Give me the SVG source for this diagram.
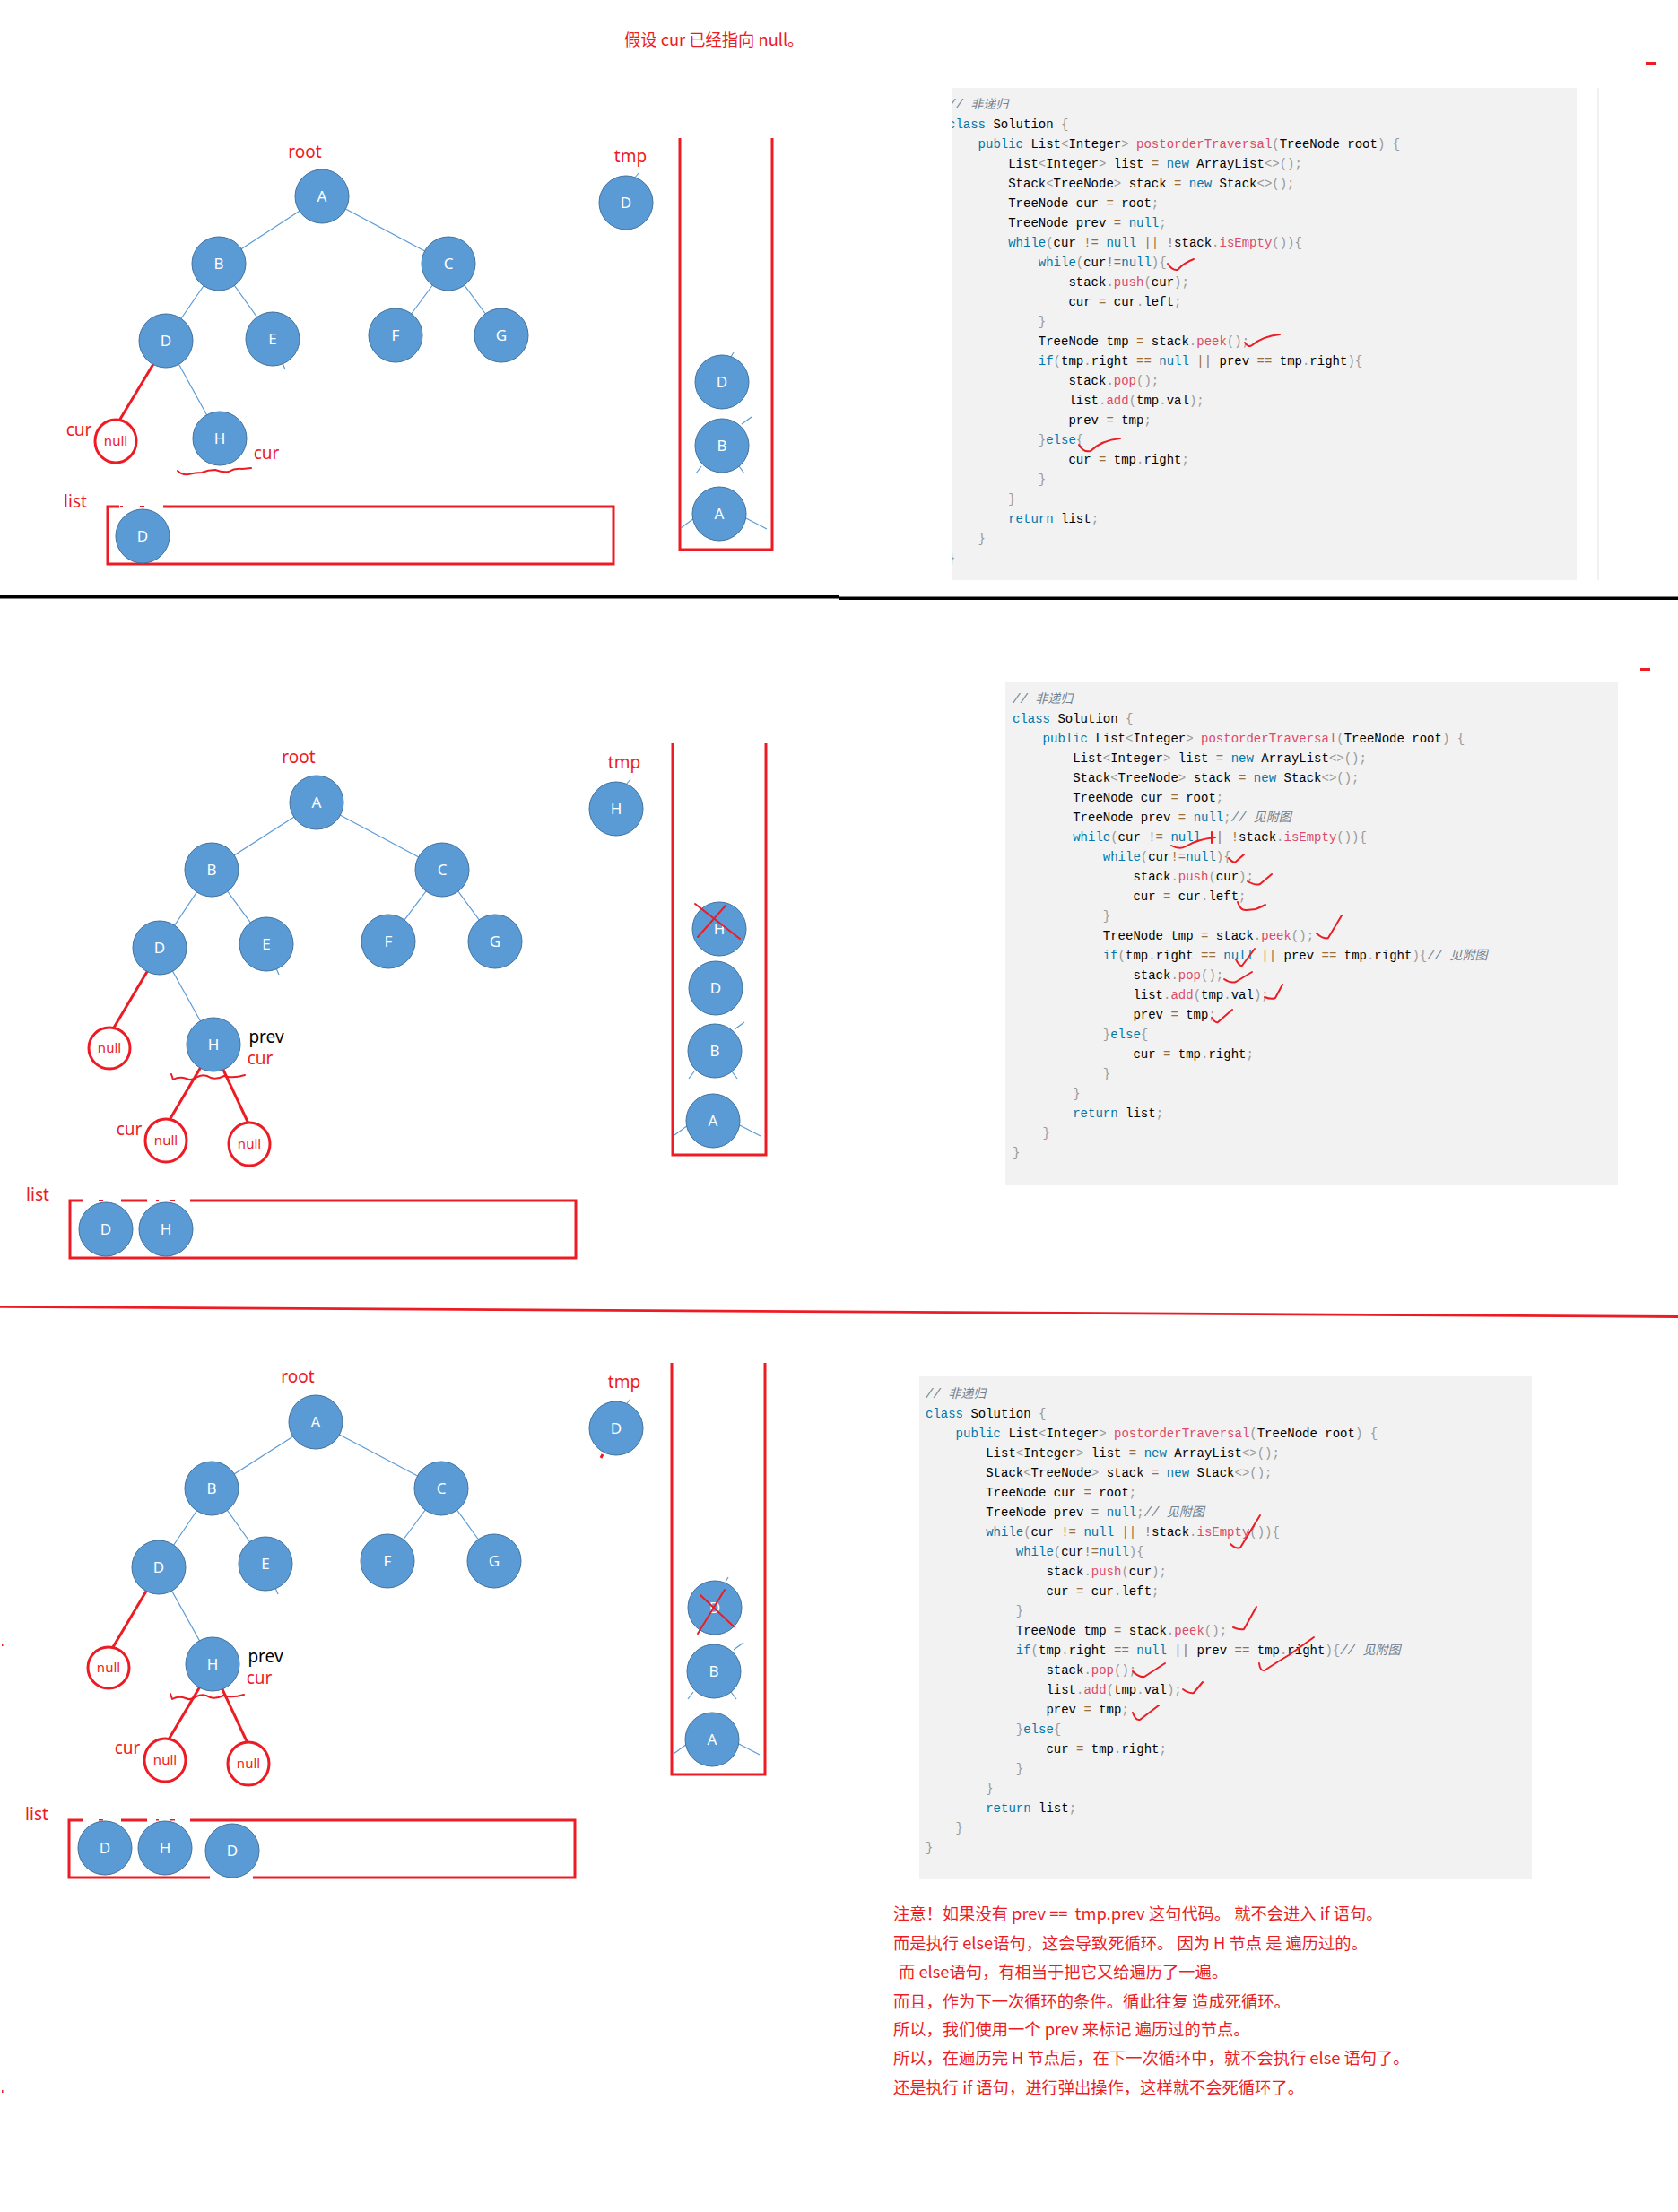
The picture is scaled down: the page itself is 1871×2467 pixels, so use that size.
<svg xmlns="http://www.w3.org/2000/svg" width="1871" height="2467" viewBox="0 0 1871 2467">
<defs>
<style>
.node circle{fill:#5b9bd5;stroke:#41719c;stroke-width:1}
.node text{fill:#fff;font-family:"Noto Sans","DejaVu Sans",sans-serif;font-size:17px;text-anchor:middle}
.edge{stroke:#5b9bd5;stroke-width:1.2;fill:none}
.red{stroke:#ed1c24;stroke-width:3;fill:none}
.redthin{stroke:#ed1c24;stroke-width:2;fill:none;stroke-linecap:round;stroke-linejoin:round}
.nullc ellipse{fill:#fff;stroke:#ed1c24;stroke-width:3}
.nullc text{fill:#ed1c24;font-family:"Noto Sans","DejaVu Sans",sans-serif;font-size:15px;text-anchor:middle}
.lbl{fill:#ed1c24;font-family:"Noto Sans","DejaVu Sans",sans-serif;font-size:19px;text-anchor:middle}
.lblb{fill:#000;font-family:"Noto Sans","DejaVu Sans",sans-serif;font-size:19px;text-anchor:middle}
.note{fill:#ed1c24;font-family:"Noto Sans CJK SC","Noto Sans",sans-serif;font-size:18.3px;white-space:pre}
.code{font-family:"Liberation Mono","DejaVu Sans Mono","Noto Sans CJK SC",monospace;font-size:14px;fill:#000}
.k{fill:#0077aa}
.f{fill:#dd4a68}
.p{fill:#999999}
.o{fill:#9a6e3a}
.c{fill:#708090;font-style:italic}
.bg{fill:#f2f2f2}
</style>
<clipPath id="clip1"><rect x="1062" y="98" width="696" height="549"/></clipPath>
</defs>
<rect x="0" y="0" width="1871" height="2467" fill="#fff"/>

<!-- separators and marks -->
<rect x="0" y="664" width="935" height="3.5" fill="#000"/>
<rect x="935" y="665.5" width="936" height="3.5" fill="#000"/>
<line x1="0" y1="1457.3" x2="1871" y2="1468.5" stroke="#ed1c24" stroke-width="2.8"/>
<rect x="1835" y="69" width="11" height="3" fill="#ed1c24"/>
<rect x="1829" y="745" width="11" height="3" fill="#ed1c24"/>
<rect x="2" y="1833" width="1.5" height="3" fill="#ed1c24"/>
<rect x="2" y="2331" width="1.5" height="3" fill="#ed1c24"/>

<text class="note" x="696" y="51" font-size="18.5">假设 cur 已经指向 null。</text>

<!-- ============ SECTION 1 ============ -->
<g id="s1-connectors">
<line class="edge" x1="359" y1="219" x2="244" y2="294"/>
<line class="edge" x1="359" y1="219" x2="500" y2="294"/>
<line class="edge" x1="244" y1="294" x2="185" y2="380"/>
<line class="edge" x1="244" y1="294" x2="304" y2="378"/>
<line class="edge" x1="500" y1="294" x2="441" y2="374"/>
<line class="edge" x1="500" y1="294" x2="559" y2="374"/>
<line class="edge" x1="185" y1="380" x2="245" y2="489"/>
<line class="red" x1="171" y1="406" x2="133" y2="469"/>
<line class="edge" x1="315" y1="405" x2="318" y2="412"/>
</g>
<text class="lbl" x="340" y="176" font-size="20">root</text>
<g id="s1-A" class="node"><circle cx="359" cy="219" r="30"/><text x="359" y="225">A</text></g>
<g id="s1-B" class="node"><circle cx="244" cy="294" r="30"/><text x="244" y="300">B</text></g>
<g id="s1-C" class="node"><circle cx="500" cy="294" r="30"/><text x="500" y="300">C</text></g>
<g id="s1-D" class="node"><circle cx="185" cy="380" r="30"/><text x="185" y="386">D</text></g>
<g id="s1-E" class="node"><circle cx="304" cy="378" r="30"/><text x="304" y="384">E</text></g>
<g id="s1-F" class="node"><circle cx="441" cy="374" r="30"/><text x="441" y="380">F</text></g>
<g id="s1-G" class="node"><circle cx="559" cy="374" r="30"/><text x="559" y="380">G</text></g>
<g id="s1-H" class="node"><circle cx="245" cy="489" r="30"/><text x="245" y="495">H</text></g>
<g id="s1-null" class="nullc"><ellipse cx="129" cy="492" rx="23" ry="24"/><text x="129" y="497">null</text></g>
<text class="lbl" x="88" y="486" font-size="18">cur</text>
<text class="lbl" x="297" y="512" font-size="18">cur</text>
<path class="redthin" d="M198,525 Q203,530 210,529 Q218,527 225,527 Q232,524 240,524 Q248,527 255,526 Q262,522 270,523 L280,522"/>

<text class="lbl" x="703" y="181">tmp</text>
<g id="s1-tmpD" class="node"><circle cx="698" cy="226" r="30"/><text x="698" y="232">D</text></g>
<line class="edge" x1="708" y1="198" x2="712" y2="193"/>

<g id="s1-stack">
<path class="red" d="M758,154 V613 H861 V154"/>
</g>
<line class="edge" x1="827" y1="473" x2="838" y2="465"/>
<line class="edge" x1="782" y1="520" x2="776" y2="528"/>
<line class="edge" x1="824" y1="520" x2="830" y2="528"/>
<line class="edge" x1="774" y1="578" x2="759" y2="589"/>
<line class="edge" x1="830" y1="577" x2="855" y2="590"/>
<line class="edge" x1="815" y1="398" x2="818" y2="393"/>
<g id="s1-stD" class="node"><circle cx="805" cy="426" r="30"/><text x="805" y="432">D</text></g>
<g id="s1-stB" class="node"><circle cx="805" cy="497" r="30"/><text x="805" y="503">B</text></g>
<g id="s1-stA" class="node"><circle cx="802" cy="573" r="30"/><text x="802" y="579">A</text></g>

<text class="lbl" x="84" y="566" font-size="18">list</text>
<g id="s1-list">
<rect class="red" x="120" y="565" width="564" height="64" stroke-width="3.5"/>
<rect x="133" y="562" width="49" height="6" fill="#fff"/>
<rect x="134" y="564" width="3" height="1.5" fill="#ed1c24"/>
<rect x="156" y="564" width="5" height="1.5" fill="#ed1c24"/>
</g>
<g id="s1-listD" class="node"><circle cx="159" cy="598" r="30"/><text x="159" y="604">D</text></g>

<!-- code block 1 -->
<rect class="bg" x="1062" y="98" width="696" height="549"/>
<line x1="1782" y1="98" x2="1782" y2="647" stroke="#e3e3e3" stroke-width="1"/>
<g id="code1" class="code" clip-path="url(#clip1)">
<text x="1057" y="121"><tspan class="c">// 非递归</tspan></text>
<text x="1057" y="143"><tspan class="k">class</tspan> Solution <tspan class="p">{</tspan></text>
<text x="1090.6" y="165"><tspan class="k">public</tspan> List<tspan class="p">&lt;</tspan>Integer<tspan class="p">&gt;</tspan> <tspan class="f">postorderTraversal</tspan><tspan class="p">(</tspan>TreeNode root<tspan class="p">)</tspan> <tspan class="p">{</tspan></text>
<text x="1124.2" y="187">List<tspan class="p">&lt;</tspan>Integer<tspan class="p">&gt;</tspan> list <tspan class="o">=</tspan> <tspan class="k">new</tspan> ArrayList<tspan class="p">&lt;&gt;();</tspan></text>
<text x="1124.2" y="209">Stack<tspan class="p">&lt;</tspan>TreeNode<tspan class="p">&gt;</tspan> stack <tspan class="o">=</tspan> <tspan class="k">new</tspan> Stack<tspan class="p">&lt;&gt;();</tspan></text>
<text x="1124.2" y="231">TreeNode cur <tspan class="o">=</tspan> root<tspan class="p">;</tspan></text>
<text x="1124.2" y="253">TreeNode prev <tspan class="o">=</tspan> <tspan class="k">null</tspan><tspan class="p">;</tspan></text>
<text x="1124.2" y="275"><tspan class="k">while</tspan><tspan class="p">(</tspan>cur <tspan class="o">!=</tspan> <tspan class="k">null</tspan> <tspan class="o">||</tspan> <tspan class="o">!</tspan>stack<tspan class="p">.</tspan><tspan class="f">isEmpty</tspan><tspan class="p">()){</tspan></text>
<text x="1157.8" y="297"><tspan class="k">while</tspan><tspan class="p">(</tspan>cur<tspan class="o">!=</tspan><tspan class="k">null</tspan><tspan class="p">){</tspan></text>
<text x="1191.4" y="319">stack<tspan class="p">.</tspan><tspan class="f">push</tspan><tspan class="p">(</tspan>cur<tspan class="p">);</tspan></text>
<text x="1191.4" y="341">cur <tspan class="o">=</tspan> cur<tspan class="p">.</tspan>left<tspan class="p">;</tspan></text>
<text x="1157.8" y="363"><tspan class="p">}</tspan></text>
<text x="1157.8" y="385">TreeNode tmp <tspan class="o">=</tspan> stack<tspan class="p">.</tspan><tspan class="f">peek</tspan><tspan class="p">();</tspan></text>
<text x="1157.8" y="407"><tspan class="k">if</tspan><tspan class="p">(</tspan>tmp<tspan class="p">.</tspan>right <tspan class="o">==</tspan> <tspan class="k">null</tspan> <tspan class="o">||</tspan> prev <tspan class="o">==</tspan> tmp<tspan class="p">.</tspan>right<tspan class="p">){</tspan></text>
<text x="1191.4" y="429">stack<tspan class="p">.</tspan><tspan class="f">pop</tspan><tspan class="p">();</tspan></text>
<text x="1191.4" y="451">list<tspan class="p">.</tspan><tspan class="f">add</tspan><tspan class="p">(</tspan>tmp<tspan class="p">.</tspan>val<tspan class="p">);</tspan></text>
<text x="1191.4" y="473">prev <tspan class="o">=</tspan> tmp<tspan class="p">;</tspan></text>
<text x="1157.8" y="495"><tspan class="p">}</tspan><tspan class="k">else</tspan><tspan class="p">{</tspan></text>
<text x="1191.4" y="517">cur <tspan class="o">=</tspan> tmp<tspan class="p">.</tspan>right<tspan class="p">;</tspan></text>
<text x="1157.8" y="539"><tspan class="p">}</tspan></text>
<text x="1124.2" y="561"><tspan class="p">}</tspan></text>
<text x="1124.2" y="583"><tspan class="k">return</tspan> list<tspan class="p">;</tspan></text>
<text x="1090.6" y="605"><tspan class="p">}</tspan></text>
<text x="1057" y="627"><tspan class="p">}</tspan></text>
</g>
<g id="checks1">
<path class="redthin" d="M1302,294 Q1307,302 1313,301 Q1320,293 1331,289"/>
<path class="redthin" d="M1388,382 Q1392,388 1396,385 Q1408,375 1427,373"/>
<path class="redthin" d="M1203,496 Q1208,505 1216,503 Q1228,491 1249,489"/>
</g>

<!-- ============ SECTION 2 ============ -->
<g id="s2-connectors">
<line class="edge" x1="353" y1="895" x2="236" y2="970"/>
<line class="edge" x1="353" y1="895" x2="493" y2="970"/>
<line class="edge" x1="236" y1="970" x2="178" y2="1057"/>
<line class="edge" x1="236" y1="970" x2="297" y2="1053"/>
<line class="edge" x1="493" y1="970" x2="433" y2="1050"/>
<line class="edge" x1="493" y1="970" x2="552" y2="1050"/>
<line class="edge" x1="178" y1="1057" x2="238" y2="1165"/>
<line class="red" x1="165" y1="1082" x2="127" y2="1146"/>
<line class="red" x1="224" y1="1190" x2="189" y2="1249"/>
<line class="red" x1="248" y1="1191" x2="277" y2="1253"/>
<line class="edge" x1="308" y1="1080" x2="311" y2="1087"/>
</g>
<text class="lbl" x="333" y="851" font-size="20">root</text>
<g id="s2-A" class="node"><circle cx="353" cy="895" r="30"/><text x="353" y="901">A</text></g>
<g id="s2-B" class="node"><circle cx="236" cy="970" r="30"/><text x="236" y="976">B</text></g>
<g id="s2-C" class="node"><circle cx="493" cy="970" r="30"/><text x="493" y="976">C</text></g>
<g id="s2-D" class="node"><circle cx="178" cy="1057" r="30"/><text x="178" y="1063">D</text></g>
<g id="s2-E" class="node"><circle cx="297" cy="1053" r="30"/><text x="297" y="1059">E</text></g>
<g id="s2-F" class="node"><circle cx="433" cy="1050" r="30"/><text x="433" y="1056">F</text></g>
<g id="s2-G" class="node"><circle cx="552" cy="1050" r="30"/><text x="552" y="1056">G</text></g>
<g id="s2-H" class="node"><circle cx="238" cy="1165" r="30"/><text x="238" y="1171">H</text></g>
<g id="s2-nullL" class="nullc"><ellipse cx="122" cy="1169" rx="23" ry="23"/><text x="122" y="1174">null</text></g>
<g id="s2-nullBL" class="nullc"><ellipse cx="185" cy="1272" rx="23" ry="24"/><text x="185" y="1277">null</text></g>
<g id="s2-nullBR" class="nullc"><ellipse cx="278" cy="1276" rx="23" ry="24"/><text x="278" y="1281">null</text></g>
<text class="lblb" x="297" y="1163" font-size="18">prev</text>
<text class="lbl" x="290" y="1187" font-size="18">cur</text>
<text class="lbl" x="144" y="1266" font-size="18">cur</text>
<path class="redthin" d="M191,1198 L193,1204 Q200,1200 208,1203 Q214,1206 220,1201 Q228,1197 235,1202 Q242,1204 250,1200 Q260,1203 273,1199"/>

<text class="lbl" x="696" y="857">tmp</text>
<g id="s2-tmpH" class="node"><circle cx="687" cy="902" r="30"/><text x="687" y="908">H</text></g>
<line class="edge" x1="699" y1="874" x2="703" y2="869"/>

<g id="s2-stack">
<path class="red" d="M750,829 V1288 H854 V829"/>
</g>
<line class="edge" x1="819" y1="1148" x2="830" y2="1140"/>
<line class="edge" x1="774" y1="1195" x2="768" y2="1203"/>
<line class="edge" x1="816" y1="1195" x2="822" y2="1203"/>
<line class="edge" x1="767" y1="1255" x2="752" y2="1266"/>
<line class="edge" x1="823" y1="1254" x2="848" y2="1267"/>
<g id="s2-stH" class="node"><circle cx="802" cy="1036" r="30"/><text x="802" y="1042">H</text></g>
<g id="s2-stD" class="node"><circle cx="798" cy="1102" r="30"/><text x="798" y="1108">D</text></g>
<g id="s2-stB" class="node"><circle cx="797" cy="1172" r="30"/><text x="797" y="1178">B</text></g>
<g id="s2-stA" class="node"><circle cx="795" cy="1250" r="30"/><text x="795" y="1256">A</text></g>
<path class="redthin" d="M775,1008 L825,1047 M809,1010 L778,1045"/>

<text class="lbl" x="42" y="1339" font-size="18">list</text>
<g id="s2-list">
<rect class="red" x="78" y="1339" width="564" height="64" stroke-width="3.5"/>
<rect x="92" y="1336" width="43" height="6" fill="#fff"/>
<rect x="164" y="1336" width="48" height="6" fill="#fff"/>
<rect x="110" y="1338" width="5" height="1.5" fill="#ed1c24"/>
<rect x="174" y="1338" width="3" height="1.5" fill="#ed1c24"/>
<rect x="190" y="1338" width="5" height="1.5" fill="#ed1c24"/>
</g>
<g id="s2-listD" class="node"><circle cx="118" cy="1371" r="30"/><text x="118" y="1377">D</text></g>
<g id="s2-listH" class="node"><circle cx="185" cy="1371" r="30"/><text x="185" y="1377">H</text></g>

<!-- code block 2 -->
<rect class="bg" x="1121" y="761" width="683" height="561"/>
<g id="code2" class="code">
<text x="1129" y="784"><tspan class="c">// 非递归</tspan></text>
<text x="1129" y="806"><tspan class="k">class</tspan> Solution <tspan class="p">{</tspan></text>
<text x="1162.6" y="828"><tspan class="k">public</tspan> List<tspan class="p">&lt;</tspan>Integer<tspan class="p">&gt;</tspan> <tspan class="f">postorderTraversal</tspan><tspan class="p">(</tspan>TreeNode root<tspan class="p">)</tspan> <tspan class="p">{</tspan></text>
<text x="1196.2" y="850">List<tspan class="p">&lt;</tspan>Integer<tspan class="p">&gt;</tspan> list <tspan class="o">=</tspan> <tspan class="k">new</tspan> ArrayList<tspan class="p">&lt;&gt;();</tspan></text>
<text x="1196.2" y="872">Stack<tspan class="p">&lt;</tspan>TreeNode<tspan class="p">&gt;</tspan> stack <tspan class="o">=</tspan> <tspan class="k">new</tspan> Stack<tspan class="p">&lt;&gt;();</tspan></text>
<text x="1196.2" y="894">TreeNode cur <tspan class="o">=</tspan> root<tspan class="p">;</tspan></text>
<text x="1196.2" y="916">TreeNode prev <tspan class="o">=</tspan> <tspan class="k">null</tspan><tspan class="p">;</tspan><tspan class="c">// 见附图</tspan></text>
<text x="1196.2" y="938"><tspan class="k">while</tspan><tspan class="p">(</tspan>cur <tspan class="o">!=</tspan> <tspan class="k">null</tspan> <tspan class="o">||</tspan> <tspan class="o">!</tspan>stack<tspan class="p">.</tspan><tspan class="f">isEmpty</tspan><tspan class="p">()){</tspan></text>
<text x="1229.8" y="960"><tspan class="k">while</tspan><tspan class="p">(</tspan>cur<tspan class="o">!=</tspan><tspan class="k">null</tspan><tspan class="p">){</tspan></text>
<text x="1263.4" y="982">stack<tspan class="p">.</tspan><tspan class="f">push</tspan><tspan class="p">(</tspan>cur<tspan class="p">);</tspan></text>
<text x="1263.4" y="1004">cur <tspan class="o">=</tspan> cur<tspan class="p">.</tspan>left<tspan class="p">;</tspan></text>
<text x="1229.8" y="1026"><tspan class="p">}</tspan></text>
<text x="1229.8" y="1048">TreeNode tmp <tspan class="o">=</tspan> stack<tspan class="p">.</tspan><tspan class="f">peek</tspan><tspan class="p">();</tspan></text>
<text x="1229.8" y="1070"><tspan class="k">if</tspan><tspan class="p">(</tspan>tmp<tspan class="p">.</tspan>right <tspan class="o">==</tspan> <tspan class="k">null</tspan> <tspan class="o">||</tspan> prev <tspan class="o">==</tspan> tmp<tspan class="p">.</tspan>right<tspan class="p">){</tspan><tspan class="c">// 见附图</tspan></text>
<text x="1263.4" y="1092">stack<tspan class="p">.</tspan><tspan class="f">pop</tspan><tspan class="p">();</tspan></text>
<text x="1263.4" y="1114">list<tspan class="p">.</tspan><tspan class="f">add</tspan><tspan class="p">(</tspan>tmp<tspan class="p">.</tspan>val<tspan class="p">);</tspan></text>
<text x="1263.4" y="1136">prev <tspan class="o">=</tspan> tmp<tspan class="p">;</tspan></text>
<text x="1229.8" y="1158"><tspan class="p">}</tspan><tspan class="k">else</tspan><tspan class="p">{</tspan></text>
<text x="1263.4" y="1180">cur <tspan class="o">=</tspan> tmp<tspan class="p">.</tspan>right<tspan class="p">;</tspan></text>
<text x="1229.8" y="1202"><tspan class="p">}</tspan></text>
<text x="1196.2" y="1224"><tspan class="p">}</tspan></text>
<text x="1196.2" y="1246"><tspan class="k">return</tspan> list<tspan class="p">;</tspan></text>
<text x="1162.6" y="1268"><tspan class="p">}</tspan></text>
<text x="1129" y="1290"><tspan class="p">}</tspan></text>
</g>
<g id="checks2">
<path class="redthin" d="M1306,943 Q1315,948 1322,944 Q1335,936 1355,934 M1351,928 L1351,940"/>
<path class="redthin" d="M1370,957 Q1375,963 1378,961 L1387,953"/>
<path class="redthin" d="M1391,983 Q1400,988 1405,986 L1418,975"/>
<path class="redthin" d="M1380,1006 Q1383,1016 1390,1015 L1400,1014 Q1405,1012 1411,1009"/>
<path class="redthin" d="M1468,1041 Q1476,1048 1481,1046 L1496,1021"/>
<path class="redthin" d="M1378,1070 Q1382,1078 1385,1077 L1399,1058"/>
<path class="redthin" d="M1365,1092 Q1372,1097 1378,1095 L1396,1084"/>
<path class="redthin" d="M1410,1112 Q1418,1115 1422,1113 L1430,1098"/>
<path class="redthin" d="M1351,1135 Q1355,1141 1358,1140 L1374,1126"/>
</g>

<!-- ============ SECTION 3 ============ -->
<g id="s3-connectors">
<line class="edge" x1="352" y1="1586" x2="236" y2="1660"/>
<line class="edge" x1="352" y1="1586" x2="492" y2="1660"/>
<line class="edge" x1="236" y1="1660" x2="177" y2="1748"/>
<line class="edge" x1="236" y1="1660" x2="296" y2="1744"/>
<line class="edge" x1="492" y1="1660" x2="432" y2="1741"/>
<line class="edge" x1="492" y1="1660" x2="551" y2="1741"/>
<line class="edge" x1="177" y1="1748" x2="237" y2="1856"/>
<line class="red" x1="164" y1="1773" x2="126" y2="1837"/>
<line class="red" x1="223" y1="1881" x2="188" y2="1940"/>
<line class="red" x1="247" y1="1882" x2="276" y2="1944"/>
<line class="edge" x1="307" y1="1771" x2="310" y2="1778"/>
</g>
<text class="lbl" x="332" y="1542" font-size="20">root</text>
<g id="s3-A" class="node"><circle cx="352" cy="1586" r="30"/><text x="352" y="1592">A</text></g>
<g id="s3-B" class="node"><circle cx="236" cy="1660" r="30"/><text x="236" y="1666">B</text></g>
<g id="s3-C" class="node"><circle cx="492" cy="1660" r="30"/><text x="492" y="1666">C</text></g>
<g id="s3-D" class="node"><circle cx="177" cy="1748" r="30"/><text x="177" y="1754">D</text></g>
<g id="s3-E" class="node"><circle cx="296" cy="1744" r="30"/><text x="296" y="1750">E</text></g>
<g id="s3-F" class="node"><circle cx="432" cy="1741" r="30"/><text x="432" y="1747">F</text></g>
<g id="s3-G" class="node"><circle cx="551" cy="1741" r="30"/><text x="551" y="1747">G</text></g>
<g id="s3-H" class="node"><circle cx="237" cy="1856" r="30"/><text x="237" y="1862">H</text></g>
<g id="s3-nullL" class="nullc"><ellipse cx="121" cy="1860" rx="23" ry="23"/><text x="121" y="1865">null</text></g>
<g id="s3-nullBL" class="nullc"><ellipse cx="184" cy="1963" rx="23" ry="24"/><text x="184" y="1968">null</text></g>
<g id="s3-nullBR" class="nullc"><ellipse cx="277" cy="1967" rx="23" ry="24"/><text x="277" y="1972">null</text></g>
<text class="lblb" x="296" y="1854" font-size="18">prev</text>
<text class="lbl" x="289" y="1878" font-size="18">cur</text>
<text class="lbl" x="142" y="1956" font-size="18">cur</text>
<path class="redthin" d="M190,1889 L192,1895 Q199,1891 207,1894 Q213,1897 219,1892 Q227,1888 234,1893 Q241,1895 249,1891 Q259,1894 272,1890"/>

<text class="lbl" x="696" y="1548">tmp</text>
<g id="s3-tmpD" class="node"><circle cx="687" cy="1593" r="30"/><text x="687" y="1599">D</text></g>
<line class="edge" x1="699" y1="1565" x2="703" y2="1560"/>
<line class="red" x1="672" y1="1622" x2="670" y2="1626" stroke-width="2"/>

<g id="s3-stack">
<path class="red" d="M749,1520 V1979 H853 V1520"/>
</g>
<line class="edge" x1="809" y1="1764" x2="812" y2="1759"/>
<line class="edge" x1="818" y1="1840" x2="829" y2="1832"/>
<line class="edge" x1="773" y1="1887" x2="767" y2="1895"/>
<line class="edge" x1="815" y1="1887" x2="821" y2="1895"/>
<line class="edge" x1="766" y1="1945" x2="751" y2="1956"/>
<line class="edge" x1="822" y1="1944" x2="847" y2="1957"/>
<g id="s3-stD" class="node"><circle cx="797" cy="1793" r="30"/><text x="797" y="1799">D</text></g>
<g id="s3-stB" class="node"><circle cx="796" cy="1864" r="30"/><text x="796" y="1870">B</text></g>
<g id="s3-stA" class="node"><circle cx="794" cy="1940" r="30"/><text x="794" y="1946">A</text></g>
<path class="redthin" d="M781,1779 L818,1814 M808,1773 L778,1822"/>

<text class="lbl" x="41" y="2030" font-size="18">list</text>
<g id="s3-list">
<rect class="red" x="77" y="2030" width="564" height="64" stroke-width="3.5"/>
<rect x="92" y="2027" width="43" height="6" fill="#fff"/>
<rect x="164" y="2027" width="48" height="6" fill="#fff"/>
<rect x="110" y="2029" width="5" height="1.5" fill="#ed1c24"/>
<rect x="174" y="2029" width="3" height="1.5" fill="#ed1c24"/>
<rect x="190" y="2029" width="5" height="1.5" fill="#ed1c24"/>
<rect x="234" y="2092" width="48" height="4" fill="#fff"/>
</g>
<g id="s3-listD" class="node"><circle cx="117" cy="2061" r="30"/><text x="117" y="2067">D</text></g>
<g id="s3-listH" class="node"><circle cx="184" cy="2061" r="30"/><text x="184" y="2067">H</text></g>
<g id="s3-listD2" class="node"><circle cx="259" cy="2064" r="30"/><text x="259" y="2070">D</text></g>

<!-- code block 3 -->
<rect class="bg" x="1025" y="1535" width="683" height="561"/>
<g id="code3" class="code">
<text x="1032" y="1559"><tspan class="c">// 非递归</tspan></text>
<text x="1032" y="1581"><tspan class="k">class</tspan> Solution <tspan class="p">{</tspan></text>
<text x="1065.6" y="1603"><tspan class="k">public</tspan> List<tspan class="p">&lt;</tspan>Integer<tspan class="p">&gt;</tspan> <tspan class="f">postorderTraversal</tspan><tspan class="p">(</tspan>TreeNode root<tspan class="p">)</tspan> <tspan class="p">{</tspan></text>
<text x="1099.2" y="1625">List<tspan class="p">&lt;</tspan>Integer<tspan class="p">&gt;</tspan> list <tspan class="o">=</tspan> <tspan class="k">new</tspan> ArrayList<tspan class="p">&lt;&gt;();</tspan></text>
<text x="1099.2" y="1647">Stack<tspan class="p">&lt;</tspan>TreeNode<tspan class="p">&gt;</tspan> stack <tspan class="o">=</tspan> <tspan class="k">new</tspan> Stack<tspan class="p">&lt;&gt;();</tspan></text>
<text x="1099.2" y="1669">TreeNode cur <tspan class="o">=</tspan> root<tspan class="p">;</tspan></text>
<text x="1099.2" y="1691">TreeNode prev <tspan class="o">=</tspan> <tspan class="k">null</tspan><tspan class="p">;</tspan><tspan class="c">// 见附图</tspan></text>
<text x="1099.2" y="1713"><tspan class="k">while</tspan><tspan class="p">(</tspan>cur <tspan class="o">!=</tspan> <tspan class="k">null</tspan> <tspan class="o">||</tspan> <tspan class="o">!</tspan>stack<tspan class="p">.</tspan><tspan class="f">isEmpty</tspan><tspan class="p">()){</tspan></text>
<text x="1132.8" y="1735"><tspan class="k">while</tspan><tspan class="p">(</tspan>cur<tspan class="o">!=</tspan><tspan class="k">null</tspan><tspan class="p">){</tspan></text>
<text x="1166.4" y="1757">stack<tspan class="p">.</tspan><tspan class="f">push</tspan><tspan class="p">(</tspan>cur<tspan class="p">);</tspan></text>
<text x="1166.4" y="1779">cur <tspan class="o">=</tspan> cur<tspan class="p">.</tspan>left<tspan class="p">;</tspan></text>
<text x="1132.8" y="1801"><tspan class="p">}</tspan></text>
<text x="1132.8" y="1823">TreeNode tmp <tspan class="o">=</tspan> stack<tspan class="p">.</tspan><tspan class="f">peek</tspan><tspan class="p">();</tspan></text>
<text x="1132.8" y="1845"><tspan class="k">if</tspan><tspan class="p">(</tspan>tmp<tspan class="p">.</tspan>right <tspan class="o">==</tspan> <tspan class="k">null</tspan> <tspan class="o">||</tspan> prev <tspan class="o">==</tspan> tmp<tspan class="p">.</tspan>right<tspan class="p">){</tspan><tspan class="c">// 见附图</tspan></text>
<text x="1166.4" y="1867">stack<tspan class="p">.</tspan><tspan class="f">pop</tspan><tspan class="p">();</tspan></text>
<text x="1166.4" y="1889">list<tspan class="p">.</tspan><tspan class="f">add</tspan><tspan class="p">(</tspan>tmp<tspan class="p">.</tspan>val<tspan class="p">);</tspan></text>
<text x="1166.4" y="1911">prev <tspan class="o">=</tspan> tmp<tspan class="p">;</tspan></text>
<text x="1132.8" y="1933"><tspan class="p">}</tspan><tspan class="k">else</tspan><tspan class="p">{</tspan></text>
<text x="1166.4" y="1955">cur <tspan class="o">=</tspan> tmp<tspan class="p">.</tspan>right<tspan class="p">;</tspan></text>
<text x="1132.8" y="1977"><tspan class="p">}</tspan></text>
<text x="1099.2" y="1999"><tspan class="p">}</tspan></text>
<text x="1099.2" y="2021"><tspan class="k">return</tspan> list<tspan class="p">;</tspan></text>
<text x="1065.6" y="2043"><tspan class="p">}</tspan></text>
<text x="1032" y="2065"><tspan class="p">}</tspan></text>
</g>
<g id="checks3">
<path class="redthin" d="M1372,1722 Q1378,1728 1383,1726 L1405,1690"/>
<path class="redthin" d="M1375,1815 Q1382,1818 1387,1817 L1401,1792"/>
<path class="redthin" d="M1404,1855 Q1405,1864 1410,1863 Q1425,1853 1437,1846 L1465,1826"/>
<path class="redthin" d="M1263,1864 Q1270,1871 1276,1870 L1299,1855"/>
<path class="redthin" d="M1319,1884 Q1326,1889 1331,1888 L1341,1876"/>
<path class="redthin" d="M1263,1910 Q1266,1919 1271,1918 L1292,1902"/>
</g>

<!-- notes -->
<g id="notes">
<text class="note" x="996" y="2141">注意！如果没有 prev ==  tmp.prev 这句代码。 就不会进入 if 语句。</text>
<text class="note" x="996" y="2174">而是执行 else语句，这会导致死循环。 因为 H 节点 是 遍历过的。</text>
<text class="note" x="1002" y="2206">而 else语句，有相当于把它又给遍历了一遍。</text>
<text class="note" x="996" y="2239">而且，作为下一次循环的条件。循此往复 造成死循环。</text>
<text class="note" x="996" y="2270">所以，我们使用一个 prev 来标记 遍历过的节点。</text>
<text class="note" x="996" y="2302">所以，在遍历完 H 节点后，在下一次循环中，就不会执行 else 语句了。</text>
<text class="note" x="996" y="2335">还是执行 if 语句，进行弹出操作，这样就不会死循环了。</text>
</g>
</svg>
